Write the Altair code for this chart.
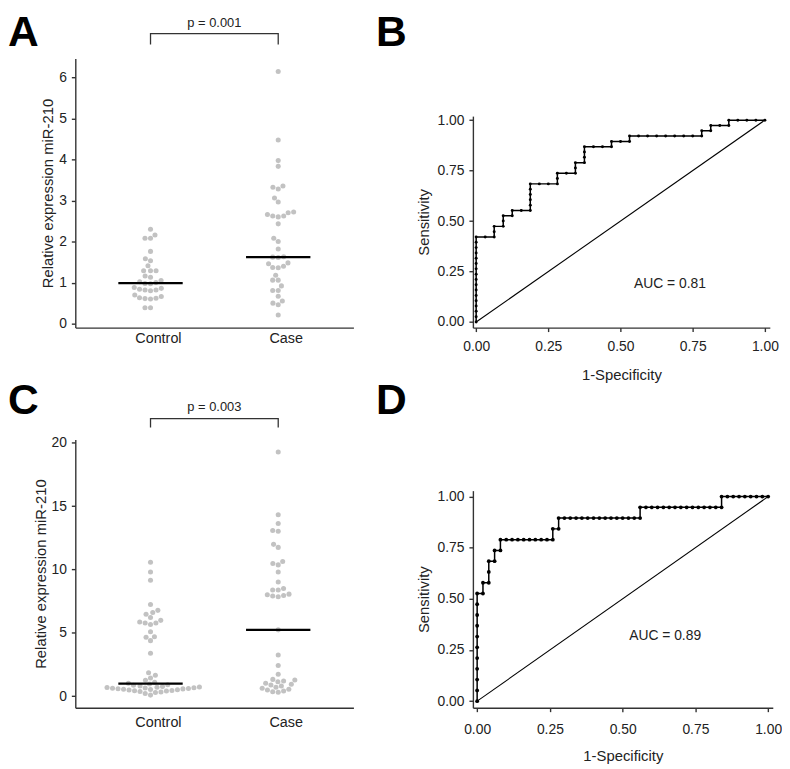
import math
import altair as alt
import pandas as pd

FONT = "Liberation Sans"
INK = "#222222"
AXIS = "#333333"

groups = ["Control", "Case"]
y_title = "Relative expression miR-210"

# Panel A (beeswarm) values
a_control = [2.30, 2.16, 2.08, 2.08, 1.76, 1.58, 1.53, 1.41, 1.29, 1.29, 1.29, 1.16,
             1.13, 1.05, 1.02, 1.00, 0.98, 0.97, 0.88, 0.86, 0.84, 0.82, 0.82, 0.80,
             0.70, 0.66, 0.63, 0.62, 0.61, 0.60, 0.39, 0.39]
a_case = [6.14, 4.47, 3.97, 3.83, 3.35, 3.28, 3.32, 3.06, 2.96, 2.72, 2.66, 2.62,
          2.60, 2.62, 2.70, 2.43, 2.08, 2.00, 1.82, 1.63, 1.62, 1.61, 1.48, 1.46,
          1.40, 1.37, 1.36, 1.18, 1.06, 1.06, 0.92, 0.81, 0.81, 0.67, 0.55, 0.50,
          0.46, 0.21]
a_medians = [0.99, 1.62]
a_p = "p = 0.001"
a_yticks = [0, 1, 2, 3, 4, 5, 6]

# Panel C (beeswarm) values
c_control = [10.57, 9.79, 9.14, 7.24, 6.77, 6.60, 6.46, 6.20, 5.98, 5.85, 5.77, 5.77,
             5.66, 5.08, 4.69, 4.64, 4.38, 3.39, 1.84, 1.64, 1.43, 1.25, 1.10, 1.02,
             0.95, 0.90, 0.85, 0.80, 0.75, 0.72, 0.70, 0.68, 0.66, 0.64, 0.62, 0.60,
             0.58, 0.57, 0.55, 0.52, 0.50, 0.48, 0.45, 0.42, 0.40, 0.36, 0.33, 0.28,
             0.20, 0.08]
c_case = [19.27, 14.32, 13.62, 13.07, 13.02, 11.98, 11.74, 10.62, 10.47, 10.36, 9.79,
          9.01, 8.50, 8.38, 8.38, 8.05, 8.00, 7.95, 7.90, 7.85, 5.23, 3.25, 2.42, 1.72,
          1.32, 1.28, 1.20, 1.14, 1.02, 0.94, 0.88, 0.80, 0.70, 0.62, 0.55, 0.48,
          0.40, 0.34, 0.30]
c_medians = [0.98, 5.23]
c_p = "p = 0.003"
c_yticks = [0, 5, 10, 15, 20]

# Panel B ROC: counts of false positives (of 32 controls) and true positives (of 38 cases)
b_n_ctrl = 32
b_n_case = 38
b_fp = [0, 0, 0, 0, 0, 0, 0, 0, 0, 0, 0, 0, 0, 0, 0, 0, 0,
        1, 2, 2, 2, 3, 3, 3, 4, 4, 5, 6, 6, 6, 6, 6, 6,
        7, 8, 9, 9, 9, 10, 11, 11, 11, 12, 12, 12, 12,
        13, 14, 15, 15, 16, 17, 17, 18, 19, 20, 21, 22, 23, 24, 25,
        25, 26, 26, 27, 28, 28, 29, 30, 31, 32]
b_tp = [0, 1, 2, 3, 4, 5, 6, 7, 8, 9, 10, 11, 12, 13, 14, 15, 16,
        16, 16, 17, 18, 18, 19, 20, 20, 21, 21, 21, 22, 23, 24, 25, 26,
        26, 26, 26, 27, 28, 28, 28, 29, 30, 30, 31, 32, 33,
        33, 33, 33, 34, 34, 34, 35, 35, 35, 35, 35, 35, 35, 35, 35,
        36, 36, 37, 37, 37, 38, 38, 38, 38, 38]
b_auc = "AUC = 0.81"

# Panel D ROC: counts of false positives (of 50 controls) and true positives (of 19 cases)
d_n_ctrl = 50
d_n_case = 19
d_fp = [0, 0, 0, 0, 0, 0, 0, 0, 0, 0, 0,
        1, 1, 2, 2, 2, 3, 3, 4, 4,
        5, 6, 7, 8, 9, 10, 11, 12, 13, 13, 14, 14,
        15, 16, 17, 18, 19, 20, 21, 22, 23, 24, 25, 26, 27, 28,
        28, 29, 30, 31, 32, 33, 34, 35, 36, 37, 38, 39, 40, 41, 42,
        42, 43, 44, 45, 46, 47, 48, 49, 50]
d_tp = [0, 1, 2, 3, 4, 5, 6, 7, 8, 9, 10,
        10, 11, 11, 12, 13, 13, 14, 14, 15,
        15, 15, 15, 15, 15, 15, 15, 15, 15, 16, 16, 17,
        17, 17, 17, 17, 17, 17, 17, 17, 17, 17, 17, 17, 17, 17,
        18, 18, 18, 18, 18, 18, 18, 18, 18, 18, 18, 18, 18, 18, 18,
        19, 19, 19, 19, 19, 19, 19, 19, 19]
d_auc = "AUC = 0.89"

roc_ticks = [0, 0.25, 0.5, 0.75, 1]


def swarm_offsets(values, px_per_unit, d=5.6):
    """Classic beeswarm: place points (ascending) at the nearest free horizontal offset."""
    idx = sorted(range(len(values)), key=lambda i: values[i])
    placed = []
    out = [0.0] * len(values)
    for i in idx:
        y = values[i] * px_per_unit
        cands = [0.0]
        for (px, py) in placed:
            dy = abs(y - py)
            if dy < d:
                dx = math.sqrt(d * d - dy * dy)
                cands.append(px + dx)
                cands.append(px - dx)
        cands.sort(key=lambda c: (round(abs(c), 6), c))
        for c in cands:
            if all((c - px) ** 2 + (y - py) ** 2 >= d * d - 1e-6 for (px, py) in placed):
                out[i] = c
                placed.append((c, y))
                break
    return out


def letter_layer(letter, lx, ly):
    return alt.Chart(pd.DataFrame({"t": [letter]})).mark_text(
        fontSize=43, fontWeight="bold", align="left", baseline="top", color="black", font=FONT
    ).encode(text="t:N", x=alt.value(lx), y=alt.value(ly))


def swarm_panel(ctrl, case, medians, ptext, ydom, yticks, H, letter, lxy,
                xlab_pad, br_top, br_leg, p_off):
    W = 281
    xdom = [-0.589, 1.589]
    xpx = W / (xdom[1] - xdom[0])
    ypx = H / (ydom[1] - ydom[0])
    rows = []
    for gi, vals in enumerate([ctrl, case]):
        offs = swarm_offsets(vals, ypx)
        for v, o in zip(vals, offs):
            rows.append({"pos": gi + o / xpx, "value": v, "group": groups[gi]})
    pts_df = pd.DataFrame(rows)
    xs = alt.Scale(domain=xdom, nice=False, zero=False)
    ys = alt.Scale(domain=ydom, nice=False, zero=False)
    label_shift = 7.5 / xpx  # category labels sit slightly right of the swarm centre
    label_expr = f"datum.value < 0.5 ? '{groups[0]}' : '{groups[1]}'"
    x_axis = alt.Axis(values=[0 + label_shift, 1 + label_shift], labelExpr=label_expr,
                      ticks=False, tickSize=0, labelPadding=xlab_pad, labelFontSize=14.5,
                      title=None, labelAngle=0)
    y_axis = alt.Axis(values=yticks, title=y_title, labelPadding=5, titlePadding=3, format="d")
    points = alt.Chart(pts_df).mark_circle(size=26, color="#c2c2c2", opacity=1).encode(
        x=alt.X("pos:Q", scale=xs, axis=x_axis),
        y=alt.Y("value:Q", scale=ys, axis=y_axis),
    )
    med_df = pd.DataFrame({
        "pos": [i - 0.252 for i in range(len(groups))],
        "right": [i + 0.252 for i in range(len(groups))],
        "value": medians,
    })
    meds = alt.Chart(med_df).mark_rule(color="black", strokeWidth=2.3).encode(
        x=alt.X("pos:Q", scale=xs, axis=x_axis), x2="right:Q",
        y=alt.Y("value:Q", scale=ys, axis=y_axis),
    )
    top = ydom[1]
    br_df = pd.DataFrame({
        "pos": [0, 0, 1, 1],
        "value": [top + br_leg / ypx, top + br_top / ypx, top + br_top / ypx, top + br_leg / ypx],
        "o": [0, 1, 2, 3],
    })
    bracket = alt.Chart(br_df).mark_line(color=AXIS, strokeWidth=1.3, clip=False).encode(
        x=alt.X("pos:Q", scale=xs, axis=x_axis),
        y=alt.Y("value:Q", scale=ys, axis=y_axis),
        order="o:Q",
    )
    p_df = pd.DataFrame({"pos": [0.5], "value": [top + p_off / ypx], "t": [ptext]})
    p_text = alt.Chart(p_df).mark_text(fontSize=13, color=INK, baseline="middle", align="center").encode(
        x=alt.X("pos:Q", scale=xs, axis=x_axis),
        y=alt.Y("value:Q", scale=ys, axis=y_axis),
        text="t:N",
    )
    return alt.layer(points, meds, bracket, p_text, letter_layer(letter, *lxy)).properties(width=W, height=H)


def roc_panel(fp, tp, n_ctrl, n_case, auc, auc_xy, W, H, xdom, ydom, ytop, dot_size,
              letter, lxy, xlab_pad, xtitle_pad):
    df = pd.DataFrame({
        "fpr": [k / n_ctrl for k in fp],
        "tpr": [j / n_case for j in tp],
        "step": list(range(len(fp))),
    })
    xs = alt.Scale(domain=xdom, nice=False, zero=False)
    ys = alt.Scale(domain=ydom, range=[H, ytop], nice=False, zero=False)
    x_axis = alt.Axis(values=roc_ticks, format=".2f", title="1-Specificity",
                      labelPadding=xlab_pad, titlePadding=xtitle_pad)
    y_axis = alt.Axis(values=roc_ticks, format=".2f", title="Sensitivity",
                      labelPadding=5, titlePadding=6)
    X = alt.X("fpr:Q", scale=xs, axis=x_axis)
    Y = alt.Y("tpr:Q", scale=ys, axis=y_axis)
    line = alt.Chart(df).mark_line(color="black", strokeWidth=1.5).encode(
        x=X, y=Y, order="step:Q",
    )
    dots = alt.Chart(df).mark_circle(color="black", size=dot_size, opacity=1).encode(x=X, y=Y)
    diag_df = pd.DataFrame({"fpr": [0, 1], "tpr": [0, 1]})
    diag = alt.Chart(diag_df).mark_line(color="black", strokeWidth=1.1).encode(x=X, y=Y)
    auc_df = pd.DataFrame({"fpr": [auc_xy[0]], "tpr": [auc_xy[1]], "t": [auc]})
    auc_text = alt.Chart(auc_df).mark_text(fontSize=14, color=INK, align="center", baseline="middle").encode(
        x=X, y=Y, text="t:N",
    )
    return alt.layer(diag, line, dots, auc_text, letter_layer(letter, *lxy)).properties(width=W, height=H)


panel_a = swarm_panel(a_control, a_case, a_medians, a_p, [-0.096, 6.458], a_yticks, 272,
                      "A", (-68, -47), 4.5, 25, 14, 36)
panel_c = swarm_panel(c_control, c_case, c_medians, c_p, [-0.914, 20.26], c_yticks, 271,
                      "C", (-68, -60), 8, 21, 12, 33)
panel_b = roc_panel(b_fp, b_tp, b_n_ctrl, b_n_case, b_auc, (0.671, 0.188), 300, 272,
                    [-0.0113, 1.0171], [-0.028, 1.02], 58.3, 9, "B", (-98, -47), 8, 14)
panel_d = roc_panel(d_fp, d_tp, d_n_ctrl, d_n_case, d_auc, (0.646, 0.316), 303, 271,
                    [-0.0146, 1.016], [-0.032, 1.029], 51.7, 15, "D", (-98, -60), 11.5, 12)

chart = alt.concat(
    panel_a, panel_b, panel_c, panel_d,
    columns=2, spacing={"row": 113, "column": 120.7}, bounds="flush",
).properties(
    padding=0
).configure(
    font=FONT
).configure_view(
    stroke=None
).configure_axis(
    grid=False, domainColor=AXIS, domainWidth=1.4, tickColor=AXIS, tickWidth=1.4,
    tickSize=4, labelColor=INK, labelFontSize=14, titleFontSize=15,
    titleFontWeight="normal", titleColor=INK, labelFont=FONT, titleFont=FONT,
)

chart.save("out.html", embed_options={"renderer": "svg", "actions": False})
